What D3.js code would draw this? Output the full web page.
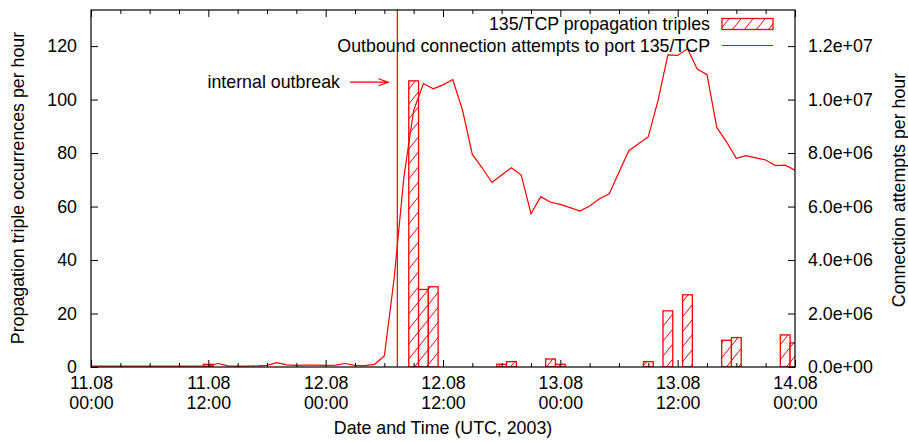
<!DOCTYPE html>
<html>
<head>
<meta charset="utf-8">
<script src="https://cdn.jsdelivr.net/npm/d3@7"></script>
<style>
  html, body { margin: 0; padding: 0; background: #fff; }
  svg { display: block; font-family: "Liberation Sans", Arial, Helvetica, sans-serif; }
</style>
</head>
<body>
<svg id="chart" width="908" height="442"></svg>
<script>
// Start of the observation window (UTC); all series are hourly offsets from it.
const startTime = Date.UTC(2003, 7, 11, 0, 0);
const endHour = 72;

// Hourly count of 135/TCP propagation triples (hour offset -> count)
const tripleHours  = [12, 33, 34, 35, 42, 43, 47, 48, 57, 59, 61, 65, 66, 71, 72];
const tripleCounts = [ 1, 107, 29, 30,  1,  2,  3,  1,  2, 21, 27, 10, 11, 12,  9];

// Outbound connection attempts to port 135/TCP per hour, hours 0..72
const attemptHours = d3.range(0, 73);
const attemptCounts = [
  30000, 30000, 30000, 30000, 30000, 30000, 30000, 30000, 30000, 30000, 30000, 30000,
  40000, 130000, 40000, 30000, 30000, 40000, 60000, 160000, 80000, 60000, 70000, 70000,
  60000, 70000, 130000, 60000, 50000, 100000, 410000, 3300000, 7100000, 9600000,
  10600000, 10400000, 10550000, 10750000, 9600000, 7950000, 7450000, 6900000,
  7180000, 7450000, 7180000, 5730000, 6370000, 6160000, 6080000, 5960000, 5830000,
  6020000, 6290000, 6480000, 7280000, 8090000, 8350000, 8610000, 9980000, 11670000,
  11650000, 11900000, 11140000, 10930000, 8960000, 8420000, 7800000, 7900000,
  7820000, 7740000, 7530000, 7550000, 7360000
];

// Axis ticks and annotation
const leftTicks  = [0, 20, 40, 60, 80, 100, 120];
const rightTicks = [0, 2e6, 4e6, 6e6, 8e6, 1e7, 1.2e7];
const majorTickHours = [0, 12, 24, 36, 48, 60, 72];
const outbreakHour = 31.33;

const seriesColor = "#ff0000";
const fontSize = 17.8;

const svg = d3.select("#chart");
const plot = { left: 91, right: 795, top: 10, bottom: 367 };

const hourToDate = h => new Date(startTime + h * 3600e3);

const x = d3.scaleUtc()
  .domain([hourToDate(0), hourToDate(endHour)])
  .range([plot.left, plot.right]);
const yLeft = d3.scaleLinear().domain([0, 133.5]).range([plot.bottom, plot.top]);
const yRight = d3.scaleLinear().domain([0, 1.335e7]).range([plot.bottom, plot.top]);

// Hatch fill for the bars
const defs = svg.append("defs");
const pat = defs.append("pattern")
  .attr("id", "hatch")
  .attr("patternUnits", "userSpaceOnUse")
  .attr("width", 12).attr("height", 15);
pat.append("rect").attr("width", 12).attr("height", 15).attr("fill", "#fff");
pat.append("path")
  .attr("d", "M0,15 L12,0 M-3,3.75 L3,-3.75 M9,18.75 L15,11.25")
  .attr("stroke", seriesColor).attr("stroke-width", 1).attr("fill", "none");

defs.append("clipPath").attr("id", "plotClip")
  .append("rect")
  .attr("x", plot.left).attr("y", plot.top)
  .attr("width", plot.right - plot.left).attr("height", plot.bottom - plot.top);

const marks = svg.append("g").attr("clip-path", "url(#plotClip)");

// Bars: one hour wide, centred on the hour
const bars = tripleHours.map((h, i) => ({ h, v: tripleCounts[i] }));
marks.selectAll("rect.bar").data(bars).enter().append("rect")
  .attr("class", "bar")
  .attr("x", d => x(hourToDate(d.h - 0.5)))
  .attr("width", d => x(hourToDate(d.h + 0.5)) - x(hourToDate(d.h - 0.5)))
  .attr("y", d => yLeft(d.v))
  .attr("height", d => yLeft(0) - yLeft(d.v))
  .attr("fill", "url(#hatch)")
  .attr("stroke", seriesColor)
  .attr("stroke-width", 1.3);

// Connection attempts line (right axis)
const line = d3.line()
  .x((d, i) => x(hourToDate(attemptHours[i])))
  .y(d => yRight(d));
marks.append("path")
  .datum(attemptCounts)
  .attr("d", line)
  .attr("fill", "none")
  .attr("stroke", seriesColor)
  .attr("stroke-width", 1.2);

// Outbreak marker
marks.append("line")
  .attr("x1", x(hourToDate(outbreakHour))).attr("x2", x(hourToDate(outbreakHour)))
  .attr("y1", plot.top).attr("y2", plot.bottom)
  .attr("stroke", seriesColor).attr("stroke-width", 1.2);

// Frame
svg.append("rect")
  .attr("x", plot.left).attr("y", plot.top)
  .attr("width", plot.right - plot.left).attr("height", plot.bottom - plot.top)
  .attr("fill", "none").attr("stroke", "#000").attr("stroke-width", 1.2);

// Bottom/top time ticks: major every 12 h, minor every 3 h, drawn inward
const minorHours = d3.range(0, endHour + 1, 3).filter(h => h % 12 !== 0);
const timeFmtDay = d3.utcFormat("%d.%m");
const timeFmtHour = d3.utcFormat("%H:%M");

const xAxisBottom = d3.axisBottom(x)
  .tickValues(majorTickHours.map(hourToDate))
  .tickSizeInner(-7).tickSizeOuter(0).tickPadding(12)
  .tickFormat("");
const gxB = svg.append("g").attr("transform", `translate(0,${plot.bottom})`).call(xAxisBottom);
gxB.select(".domain").remove();
gxB.selectAll(".tick").each(function(d) {
  const t = d3.select(this).append("text")
    .attr("fill", "#000").attr("text-anchor", "middle")
    .style("font-size", fontSize + "px");
  t.append("tspan").attr("x", 0).attr("y", 22).text(timeFmtDay(d));
  t.append("tspan").attr("x", 0).attr("y", 42).text(timeFmtHour(d));
});
const gxBm = svg.append("g").attr("transform", `translate(0,${plot.bottom})`)
  .call(d3.axisBottom(x).tickValues(minorHours.map(hourToDate)).tickSizeInner(-4).tickSizeOuter(0).tickFormat(""));
gxBm.select(".domain").remove();

const gxT = svg.append("g").attr("transform", `translate(0,${plot.top})`)
  .call(d3.axisTop(x).tickValues(majorTickHours.map(hourToDate)).tickSizeInner(-7).tickSizeOuter(0).tickFormat(""));
gxT.select(".domain").remove();
const gxTm = svg.append("g").attr("transform", `translate(0,${plot.top})`)
  .call(d3.axisTop(x).tickValues(minorHours.map(hourToDate)).tickSizeInner(-4).tickSizeOuter(0).tickFormat(""));
gxTm.select(".domain").remove();

// Left axis
const gyL = svg.append("g").attr("transform", `translate(${plot.left},0)`)
  .call(d3.axisLeft(yLeft).tickValues(leftTicks).tickSizeInner(-7).tickSizeOuter(0).tickPadding(14).tickFormat(d3.format("d")));
gyL.select(".domain").remove();
gyL.selectAll("text").style("font-size", fontSize + "px").attr("fill", "#000");

// Right axis
const sciFmt = v => {
  const e = v === 0 ? 0 : Math.floor(Math.log10(v));
  const m = v / Math.pow(10, e);
  return m.toFixed(1) + "e" + (e < 0 ? "-" : "+") + String(Math.abs(e)).padStart(2, "0");
};
const gyR = svg.append("g").attr("transform", `translate(${plot.right},0)`)
  .call(d3.axisRight(yRight).tickValues(rightTicks).tickSizeInner(-7).tickSizeOuter(0).tickPadding(13).tickFormat(sciFmt));
gyR.select(".domain").remove();
gyR.selectAll("text").style("font-size", fontSize + "px").attr("fill", "#000");

svg.selectAll(".tick line").attr("stroke", "#000");
svg.selectAll("g").attr("font-family", null);

// Axis titles
svg.append("text")
  .attr("transform", "translate(18,188) rotate(-90)")
  .attr("text-anchor", "middle").attr("dominant-baseline", "central")
  .style("font-size", fontSize + "px")
  .text("Propagation triple occurrences per hour");
svg.append("text")
  .attr("transform", "translate(899,190) rotate(-90)")
  .attr("text-anchor", "middle").attr("dominant-baseline", "central")
  .style("font-size", fontSize + "px")
  .text("Connection attempts per hour");
svg.append("text")
  .attr("x", (plot.left + plot.right) / 2).attr("y", 434)
  .attr("text-anchor", "middle")
  .style("font-size", fontSize + "px")
  .text("Date and Time (UTC, 2003)");

// Outbreak annotation with arrow
const arrowY = yLeft(106.5);
const arrowTip = x(hourToDate(outbreakHour)) - 9;
svg.append("text")
  .attr("x", 340).attr("y", arrowY)
  .attr("text-anchor", "end").attr("dominant-baseline", "central")
  .style("font-size", fontSize + "px")
  .text("internal outbreak");
svg.append("path")
  .attr("d", `M350,${arrowY} L${arrowTip},${arrowY} M${arrowTip - 10},${arrowY - 3.5} L${arrowTip},${arrowY} L${arrowTip - 10},${arrowY + 3.5}`)
  .attr("fill", "none").attr("stroke", seriesColor).attr("stroke-width", 1.2);

// Legend
const legend = svg.append("g");
legend.append("text")
  .attr("x", 710).attr("y", 24)
  .attr("text-anchor", "end").attr("dominant-baseline", "central")
  .style("font-size", fontSize + "px")
  .text("135/TCP propagation triples");
legend.append("rect")
  .attr("x", 722).attr("y", 18.5).attr("width", 51).attr("height", 11)
  .attr("fill", "url(#hatch)").attr("stroke", seriesColor).attr("stroke-width", 1.3);
legend.append("text")
  .attr("x", 710).attr("y", 45.5)
  .attr("text-anchor", "end").attr("dominant-baseline", "central")
  .style("font-size", fontSize + "px")
  .text("Outbound connection attempts to port 135/TCP");
legend.append("line")
  .attr("x1", 722).attr("x2", 773).attr("y1", 45.5).attr("y2", 45.5)
  .attr("stroke", seriesColor).attr("stroke-width", 1.2);
</script>
</body>
</html>
